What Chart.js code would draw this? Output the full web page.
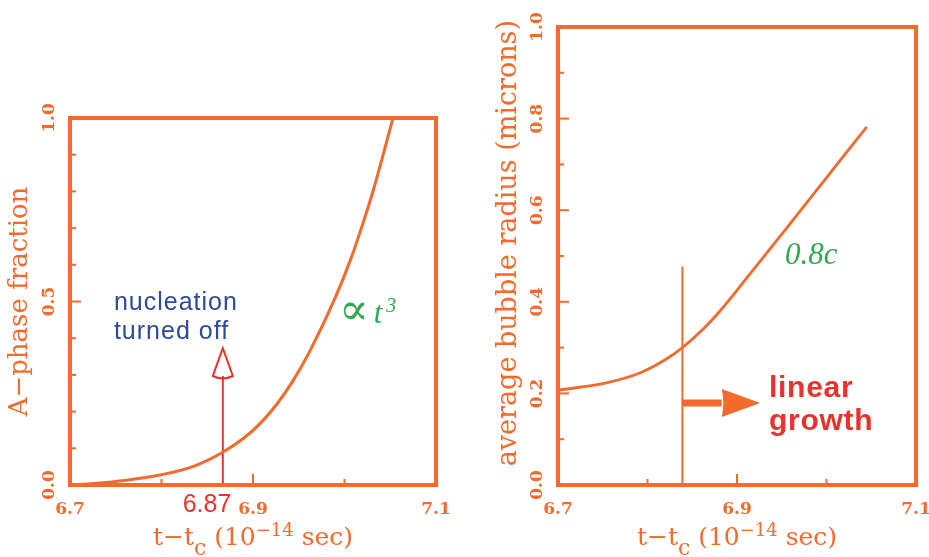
<!DOCTYPE html>
<html><head><meta charset="utf-8">
<script src="https://cdn.jsdelivr.net/npm/chart.js@4"></script>
<style>
html,body{margin:0;padding:0;background:#fff;}
#wrap{position:relative;width:929px;height:557px;overflow:hidden;background:#fff;}
#c1{position:absolute;left:0;top:0;}
#c2{position:absolute;left:480px;top:0;}
</style></head><body>
<div id="wrap"><canvas id="c1" width="480" height="557"></canvas><canvas id="c2" width="449" height="557"></canvas></div>
<script>
// ---- data ----
const leftX = [6.700, 6.726, 6.762, 6.798, 6.835, 6.866, 6.889, 6.908, 6.926, 6.944, 6.962, 6.990, 7.006, 7.019, 7.032, 7.053];
const leftY = [0.000, 0.004, 0.013, 0.027, 0.051, 0.088, 0.126, 0.168, 0.220, 0.285, 0.364, 0.511, 0.610, 0.704, 0.808, 1.000];
const rightX = [6.700, 6.754, 6.792, 6.821, 6.839, 6.862, 6.881, 6.915, 6.955, 6.989, 7.015, 7.045];
const rightY = [0.207, 0.223, 0.245, 0.275, 0.300, 0.340, 0.380, 0.462, 0.560, 0.644, 0.708, 0.782];
const xTickLabels = ['6.7', '6.9', '7.1'];
const leftYTickLabels = ['0.0', '0.5', '1.0'];
const rightYTickLabels = ['0.0', '0.2', '0.4', '0.6', '0.8', '1.0'];
const nucleationOffX = 6.867;      // arrow position (nucleation turned off)
const nucleationArrowBase = 0.297;
const nucleationArrowTip = 0.373;
const linearStartX = 6.839;        // start of linear growth
const linearLineTop = 0.477;
const linearArrowY = 0.179;
const linearArrowBaseX = 6.883;
const linearArrowTipX = 6.926;

const ORANGE = '#f26a2c';
const RED = '#e8332b';
const BLUE = '#2c4b9b';
const GREEN = '#2fa84f';
const TICKFONT = {family: '"DejaVu Serif"', weight: 'bold', size: 17};

function tickCb(labels) {
  return (v) => { const s = Number(v).toFixed(1); return labels.includes(s) ? s : ''; };
}

const framePlugin = {
  id: 'frame',
  afterDraw(chart, args, opts) {
    const {ctx, chartArea: a, scales} = chart;
    ctx.save();
    ctx.strokeStyle = ORANGE;
    ctx.lineWidth = 2;
    const xs = scales.x, ys = scales.y;
    xs.ticks.forEach(t => {
      const s = Number(t.value).toFixed(1);
      if (Math.abs(t.value - xs.min) < 1e-6 || Math.abs(t.value - xs.max) < 1e-6) return;
      const p = xs.getPixelForValue(t.value);
      const len = xTickLabels.includes(s) ? 11 : 6;
      ctx.beginPath(); ctx.moveTo(p, a.bottom); ctx.lineTo(p, a.bottom - len); ctx.stroke();
    });
    ys.ticks.forEach(t => {
      const s = Number(t.value).toFixed(1);
      if (Math.abs(t.value - ys.min) < 1e-6 || Math.abs(t.value - ys.max) < 1e-6) return;
      const p = ys.getPixelForValue(t.value);
      const len = opts.yLabels.includes(s) ? 11 : 6;
      ctx.beginPath(); ctx.moveTo(a.left, p); ctx.lineTo(a.left + len, p); ctx.stroke();
    });
    ctx.lineWidth = 4;
    ctx.strokeRect(a.left, a.top, a.right - a.left, a.bottom - a.top);
    // x axis title with sub/superscripts
    const pieces = [
      {t: 't\u2212t', f: '25px "DejaVu Serif"', dy: 0},
      {t: 'c', f: '22px "DejaVu Serif"', dy: 10},
      {t: ' (10', f: '25px "DejaVu Serif"', dy: 0},
      {t: '\u221214', f: '18px "DejaVu Serif"', dy: -9},
      {t: ' sec)', f: '25px "DejaVu Serif"', dy: 0}
    ];
    let w = 0;
    pieces.forEach(p => { ctx.font = p.f; p.w = ctx.measureText(p.t).width; w += p.w; });
    let x = (a.left + a.right) / 2 - w / 2;
    const base = a.bottom + 60;
    ctx.fillStyle = ORANGE; ctx.textBaseline = 'alphabetic'; ctx.textAlign = 'left';
    pieces.forEach(p => { ctx.font = p.f; ctx.fillText(p.t, x, base + p.dy); x += p.w; });
    // annotations
    (opts.texts || []).forEach(tx => {
      ctx.font = tx.font; ctx.fillStyle = tx.color; ctx.textAlign = tx.align || 'left';
      ctx.letterSpacing = tx.spacing || '0px';
      ctx.fillText(tx.text, xs.getPixelForValue(tx.x), ys.getPixelForValue(tx.y));
    });
    ctx.letterSpacing = '0px';
    (opts.heads || []).forEach(h => h(ctx, xs, ys));
    ctx.restore();
  }
};

function makeChart(id, cfg) {
  return new Chart(document.getElementById(id), {
    type: 'line',
    data: {datasets: cfg.datasets},
    options: {
      responsive: false, animation: false, devicePixelRatio: 1,
      layout: {padding: cfg.padding},
      plugins: {legend: {display: false}, tooltip: {enabled: false}, frame: cfg.frame},
      scales: {
        x: {
          type: 'linear', min: 6.7, max: 7.1,
          grid: {display: false, drawTicks: false}, border: {display: false},
          ticks: {stepSize: 0.1, autoSkip: false, maxRotation: 0, padding: 14, color: ORANGE, font: TICKFONT, callback: tickCb(xTickLabels)},
          afterFit: (s) => { s.height = 72; s.paddingLeft = 0; s.paddingRight = 0; }
        },
        y: {
          type: 'linear', min: 0, max: 1,
          grid: {display: false, drawTicks: false}, border: {display: false},
          ticks: {stepSize: 0.1, autoSkip: false, minRotation: 90, maxRotation: 90, crossAlign: 'center', padding: 6, color: ORANGE, font: TICKFONT, callback: tickCb(cfg.yLabels)},
          title: {display: true, text: cfg.yTitle, color: ORANGE, font: {family: '"DejaVu Serif"', size: cfg.yTitleSize}, padding: {top: cfg.yTitlePad, bottom: 0}},
          afterFit: (s) => { s.width = cfg.yWidth; s.paddingTop = 0; s.paddingBottom = 0; }
        }
      }
    },
    plugins: [framePlugin]
  });
}

const line = (xs, ys, color, width, extra) => Object.assign({
  data: xs.map((x, i) => ({x, y: ys[i]})),
  borderColor: color, borderWidth: width, pointRadius: 0, fill: false,
  cubicInterpolationMode: 'monotone', borderCapStyle: 'butt'
}, extra || {});

makeChart('c1', {
  padding: {left: 0, top: 118, right: 44, bottom: 0},
  yWidth: 70, yTitle: 'A\u2212phase fraction', yTitleSize: 26, yTitlePad: 5, yLabels: leftYTickLabels,
  datasets: [
    line(leftX, leftY, ORANGE, 3),
    line([nucleationOffX, nucleationOffX], [0, nucleationArrowBase], RED, 2)
  ],
  frame: {
    yLabels: leftYTickLabels,
    texts: [
      {text: 'nucleation', x: 6.748, y: 0.477, font: '25px "Liberation Sans"', color: BLUE, spacing: '1px'},
      {text: 'turned off', x: 6.748, y: 0.398, font: '25px "Liberation Sans"', color: BLUE, spacing: '1px'},
      {text: '\u221D', x: 6.994, y: 0.438, font: '44px "DejaVu Serif"', color: GREEN},
      {text: 't', x: 7.032, y: 0.441, font: 'italic 31px "Liberation Serif"', color: GREEN},
      {text: '3', x: 7.0455, y: 0.471, font: 'italic 20px "Liberation Serif"', color: GREEN},
      {text: '6.87', x: 6.8497, y: -0.0736, font: '25px "Liberation Sans"', color: RED, align: 'center'}
    ],
    heads: [(ctx, xs, ys) => {
      const x = xs.getPixelForValue(nucleationOffX);
      const yb = ys.getPixelForValue(nucleationArrowBase);
      const yt = ys.getPixelForValue(nucleationArrowTip);
      ctx.strokeStyle = RED; ctx.lineWidth = 2;
      ctx.beginPath();
      ctx.moveTo(x, yt); ctx.lineTo(x - 10, yb);
      ctx.quadraticCurveTo(x, yb + 5, x + 10, yb);
      ctx.closePath(); ctx.stroke();
    }]
  }
});

makeChart('c2', {
  padding: {left: 0, top: 27, right: 13, bottom: 0},
  yWidth: 78, yTitle: '   average bubble radius (microns)', yTitleSize: 27, yTitlePad: 13, yLabels: rightYTickLabels,
  datasets: [
    line(rightX, rightY, ORANGE, 2.8),
    line([linearStartX, linearStartX], [0, linearLineTop], ORANGE, 2),
    line([linearStartX, linearArrowBaseX], [linearArrowY, linearArrowY], ORANGE, 7)
  ],
  frame: {
    yLabels: rightYTickLabels,
    texts: [
      {text: '0.8c', x: 6.9536, y: 0.4825, font: 'italic 31px "Liberation Serif"', color: GREEN},
      {text: 'linear', x: 6.9358, y: 0.192, font: 'bold 30px "Liberation Sans"', color: RED, spacing: '0.7px'},
      {text: 'growth', x: 6.9358, y: 0.120, font: 'bold 30px "Liberation Sans"', color: RED, spacing: '0.7px'}
    ],
    heads: [(ctx, xs, ys) => {
      const xb = xs.getPixelForValue(linearArrowBaseX);
      const xt = xs.getPixelForValue(linearArrowTipX);
      const y = ys.getPixelForValue(linearArrowY);
      ctx.fillStyle = ORANGE;
      ctx.beginPath();
      ctx.moveTo(xt, y); ctx.lineTo(xb, y - 14);
      ctx.quadraticCurveTo(xb + 3, y, xb, y + 14);
      ctx.closePath(); ctx.fill();
    }]
  }
});
</script>
</body></html>
